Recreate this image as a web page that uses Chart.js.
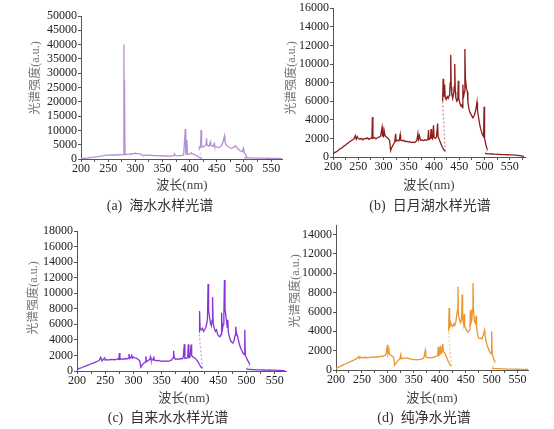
<!DOCTYPE html>
<html>
<head>
<meta charset="utf-8">
<script src="https://cdn.jsdelivr.net/npm/chart.js@4.4.1/dist/chart.umd.min.js"></script>
<style>
  body { margin: 0; background: #fff; }
  #wrap { position: relative; width: 554px; height: 429px; background: #fff; overflow: hidden; }
  .panel { position: absolute; }
  .txt { position: absolute; transform: translate(-50%, -50%); white-space: nowrap;
         font-family: "Liberation Serif", "Noto Sans CJK SC", serif; }
  .ytitle { font-size: 12px; color: #777; transform: translate(-50%, -50%) rotate(-90deg); }
  .xtitle { font-size: 13px; color: #444; }
  .cap { font-size: 14px; color: #333; }
</style>
</head>
<body>
<div id="wrap">
  <div class="panel" id="boxA"><canvas id="chartA"></canvas></div>
  <div class="panel" id="boxB"><canvas id="chartB"></canvas></div>
  <div class="panel" id="boxC"><canvas id="chartC"></canvas></div>
  <div class="panel" id="boxD"><canvas id="chartD"></canvas></div>

  <div class="txt ytitle" style="left:34px;top:78px">光谱强度(a.u.)</div>
  <div class="txt ytitle" style="left:290px;top:78px">光谱强度(a.u.)</div>
  <div class="txt ytitle" style="left:32px;top:298px">光谱强度(a.u.)</div>
  <div class="txt ytitle" style="left:294px;top:291px">光谱强度(a.u.)</div>

  <div class="txt xtitle" style="left:182px;top:183px">波长(nm)</div>
  <div class="txt xtitle" style="left:429px;top:183px">波长(nm)</div>
  <div class="txt xtitle" style="left:184px;top:396px">波长(nm)</div>
  <div class="txt xtitle" style="left:432px;top:396px">波长(nm)</div>

  <div class="txt cap" style="left:160px;top:204px">(a)&nbsp; 海水水样光谱</div>
  <div class="txt cap" style="left:430px;top:204px">(b)&nbsp; 日月湖水样光谱</div>
  <div class="txt cap" style="left:168px;top:416px">(c)&nbsp; 自来水水样光谱</div>
  <div class="txt cap" style="left:424px;top:416px">(d)&nbsp; 纯净水光谱</div>
</div>

<script>
// tick values
const xTickValues = [200, 225, 250, 275, 300, 325, 350, 375, 400, 425, 450, 475, 500, 525, 550, 575];
const yTicksA = [0, 5000, 10000, 15000, 20000, 25000, 30000, 35000, 40000, 45000, 50000];
const yTicksB = [0, 2000, 4000, 6000, 8000, 10000, 12000, 14000, 16000];
const yTicksC = [0, 2000, 4000, 6000, 8000, 10000, 12000, 14000, 16000, 18000];
const yTicksD = [0, 2000, 4000, 6000, 8000, 10000, 12000, 14000];

// spectra as [wavelength nm, intensity a.u.], recorded in three detector segments
// (a) sea water
const seaWater = [
  [200,100],[204,200],[208,280],[212,350],[216,450],[220,560],[224,650],[228,760],[232,850],[236,980],
  [240,1100],[244,1250],[248,1380],[252,1420],[256,1350],[260,1450],[264,1400],[268,1500],[272,1450],[276,1550],
  [278,1500],[279,40000],[279.5,1600],[280,27500],[281,1550],[285,1650],[288,1700],[291,1800],[294,1750],[297,1900],
  [300,2000],[303,1850],[306,1900],[309,1700],[312,1600],[314,1100],[317,1300],[320,1400],[323,1250],[326,1350],
  [329,1300],[332,1200],[335,1250],[338,1150],[341,1200],[344,1100],[347,1150],[350,1050],[353,1100],[356,1000],
  [359,1050],[362,1000],[365,1050],[368,1100],[371,1250],[372,1800],[374,1150],[377,1100],[380,1150],[383,1200],
  [386,1250],[389,1400],[392,10500],[393,1500],[395,6700],[396,1600],[399,1700],[402,1900],[403,2200],[405,1800],
  [408,1600],[411,1400],[414,1000],[417,600],[420,300],[422,150],
  [417,3700],[418,4200],[419,4000],[420,4300],[421,10100],[422,4300],[424,4100],[426,4400],[428,4600],[430,5000],
  [431,7200],[432,4900],[434,4700],[436,4500],[438,5900],[439,4800],[441,4600],[443,4400],[445,5400],[446,4500],
  [448,4300],[450,4200],[452,4100],[454,4000],[456,4200],[458,4500],[460,5200],[462,6300],[464,8100],[465,6000],
  [467,5000],[469,4600],[471,4300],[473,4100],[475,3900],[477,3800],[479,3900],[481,4100],[483,4400],[485,4600],
  [487,4000],[489,3500],[491,3200],[493,2900],[495,2700],[497,2600],[499,3700],[500,2400],[502,1700],[504,1100],
  [506,600],
  [500,420],[505,400],[510,380],[515,370],[520,340],[525,330],[530,310],[535,300],[540,280],[545,270],
  [550,250],[555,230],[560,210],[565,180],[570,150]
];

// (b) Sun Moon Lake water
const lakeWater = [
  [200,350],[203,450],[206,550],[209,650],[212,800],[215,900],[218,1000],[221,1150],[224,1250],[227,1400],
  [230,1500],[233,1650],[236,1750],[239,1850],[242,2000],[244,2300],[246,1900],[248,2200],[250,2000],[253,1900],
  [256,2000],[259,1850],[262,2000],[265,1950],[268,2050],[271,1900],[274,2000],[277,2050],[278,4300],[279,2000],
  [282,2100],[285,1950],[288,2100],[291,2150],[294,2200],[297,3200],[298,2300],[300,2200],[301,2900],[303,2300],
  [306,2150],[309,2000],[312,1800],[314,700],[316,1000],[318,1200],[320,1400],[322,1600],[324,2500],[325,1700],
  [328,1800],[331,1750],[333,2400],[334,1800],[337,1750],[340,1800],[343,1650],[346,1700],[349,1600],[352,1650],
  [355,1550],[358,1600],[361,1550],[364,1650],[366,1800],[368,2500],[369,1900],[371,2300],[373,1800],[376,1850],
  [379,1750],[382,1850],[385,1800],[388,1900],[389,2900],[390,1900],[393,2000],[394,3000],[395,2100],[397,1950],
  [399,3400],[400,2100],[403,2000],[405,2200],[407,3600],[408,2200],[410,1900],[413,1500],[416,1100],[419,800],
  [422,600],
  [417,6000],[418,8400],[419,6500],[420,6800],[421,7800],[422,6400],[424,6200],[426,6500],[428,6300],[430,6600],
  [431,7000],[432,8000],[433,11000],[434,7500],[435,6800],[437,6300],[439,7000],[440,7600],[441,10000],[442,7000],
  [443,6400],[445,6000],[447,6200],[448,8200],[449,6300],[451,5800],[453,5500],[455,5600],[456,5300],[457,7800],
  [458,6300],[460,7000],[461,11600],[462,8500],[464,7400],[466,7000],[467,5900],[469,5200],[471,4800],[473,4600],
  [475,4400],[477,4200],[479,4400],[481,4700],[483,5200],[485,5900],[486,5000],[488,4300],[490,3600],[492,3100],
  [494,2700],[496,2400],[498,2200],[499,5400],[500,2000],[502,1500],[504,1000],[506,800],
  [501,380],[505,350],[510,330],[515,320],[520,300],[525,290],[530,280],[535,260],[540,250],[545,240],
  [550,230],[555,220],[560,200],[565,180],[570,150],[575,100],[578,30]
];

// (c) tap water
const tapWater = [
  [200,180],[203,300],[206,380],[209,450],[212,550],[215,620],[218,720],[221,800],[224,900],[227,980],
  [230,1050],[233,1150],[236,1250],[239,1350],[242,1750],[244,1300],[246,1450],[249,1700],[250,1400],[253,1450],
  [256,1400],[259,1500],[262,1450],[265,1500],[268,1450],[271,1550],[274,1500],[275,2300],[276,1500],[279,1550],
  [282,1500],[285,1600],[288,1550],[291,1650],[292,2200],[293,1600],[295,1700],[297,2000],[298,1650],[300,1800],
  [302,1700],[305,1650],[308,1500],[311,1300],[313,500],[315,750],[317,900],[319,1050],[321,1150],[322,1900],
  [323,1200],[326,1350],[329,1500],[330,1800],[331,1450],[334,1400],[336,1750],[337,1400],[340,1350],[343,1300],
  [346,1350],[349,1250],[352,1300],[355,1250],[358,1300],[361,1250],[364,1300],[367,1400],[370,1700],[371,2600],
  [372,1800],[374,1500],[377,1550],[380,1500],[383,1600],[386,1550],[388,1700],[390,3450],[391,1600],[394,1650],
  [396,1800],[397,3450],[398,1700],[400,1750],[402,3400],[403,2000],[405,1800],[408,1700],[411,1500],[414,1200],
  [417,800],[420,450],[422,350],
  [416,5000],[417,7700],[418,5400],[420,5300],[422,5500],[424,5100],[426,5300],[428,5600],[430,6200],[431,6800],
  [432,11200],[433,7800],[434,7300],[436,6200],[438,5800],[439,6500],[440,9500],[441,6200],[443,5500],[445,5100],
  [447,5300],[449,4700],[451,4500],[453,4400],[455,4700],[456,7500],[457,5200],[459,6000],[460,7200],[461,11700],
  [462,8000],[464,6800],[466,5600],[467,6600],[468,5000],[470,4300],[472,3900],[474,3700],[476,3600],[478,3900],
  [480,4600],[481,5700],[482,5000],[484,4500],[486,3900],[488,3300],[490,2900],[492,2600],[494,2300],[496,2100],
  [497,5300],[498,2000],[500,1700],[502,1400],[504,1100],[506,850],
  [500,250],[505,220],[510,190],[515,170],[520,150],[525,140],[530,130],[535,120],[540,140],[545,110],
  [550,100],[555,90],[560,80],[565,60],[568,40]
];

// (d) pure water
const pureWater = [
  [200,150],[203,250],[206,330],[209,400],[212,480],[215,550],[218,620],[221,700],[224,770],[227,850],
  [230,920],[233,1000],[236,1080],[239,1150],[242,1250],[244,1400],[246,1200],[248,1350],[250,1300],[253,1250],
  [256,1350],[259,1250],[262,1300],[265,1280],[268,1350],[271,1300],[274,1350],[277,1320],[280,1380],[283,1350],
  [286,1420],[289,1400],[292,1450],[295,1500],[297,1800],[299,2600],[300,1700],[302,2100],[303,1600],[305,1550],
  [308,1450],[311,1300],[313,500],[315,650],[317,800],[319,950],[321,1050],[323,1150],[325,1600],[326,1150],
  [329,1200],[332,1250],[335,1200],[338,1250],[341,1150],[344,1150],[347,1100],[350,1050],[353,1100],[356,1050],
  [359,1080],[362,1100],[365,1120],[368,1200],[370,1400],[372,2000],[373,1400],[375,1300],[378,1250],[381,1300],
  [384,1250],[387,1300],[390,1350],[393,1400],[396,1500],[397,2400],[398,1500],[400,1600],[401,2500],[402,1700],
  [404,1800],[406,2700],[407,1900],[409,1800],[411,1600],[414,1200],[417,800],[420,500],[422,400],
  [417,4000],[418,6400],[419,4300],[421,4900],[423,4600],[425,4500],[427,4800],[429,4600],[431,5000],[433,5800],
  [434,6200],[435,8600],[436,5800],[438,5200],[440,4900],[442,5400],[443,7800],[444,5300],[446,4700],[447,5800],
  [448,4600],[450,4300],[452,4100],[454,3900],[456,4000],[458,4200],[459,6200],[460,4800],[462,5200],[463,6300],
  [464,9000],[465,6200],[467,5000],[469,4800],[470,5600],[471,4400],[473,3600],[475,3300],[477,3250],[479,3300],
  [481,3200],[483,3500],[485,3800],[486,4100],[487,3700],[489,3000],[491,2600],[493,2300],[495,2000],[497,1800],
  [499,1700],[500,4000],[501,1600],[503,1300],[505,1000],[507,850],
  [500,200],[505,170],[510,150],[515,140],[520,120],[525,110],[530,100],[535,100],[540,95],[545,90],
  [550,80],[555,75],[560,70],[565,60],[570,50]
];

const panels = [
  { id: 'A', data: seaWater,  color: '#b58fd4', faint: 'rgba(181,143,212,0.5)', xMax: 570, yMax: 50000, yTicks: yTicksA,
    box: [38, 0, 252, 178], padTop: 16, padRight: 8, yW: 43, xH: 19 },
  { id: 'B', data: lakeWater, color: '#8c1d1d', faint: 'rgba(140,29,29,0.45)', xMax: 580, yMax: 16000, yTicks: yTicksB,
    box: [292, 0, 241, 175], padTop: 7, padRight: 8, yW: 41, xH: 18 },
  { id: 'C', data: tapWater,  color: '#8833d6', faint: 'rgba(136,51,214,0.45)', xMax: 570, yMax: 18000, yTicks: yTicksC,
    box: [36, 220, 258, 170], padTop: 11, padRight: 8, yW: 41, xH: 19 },
  { id: 'D', data: pureWater, color: '#ec9630', faint: 'rgba(236,150,48,0.5)', xMax: 570, yMax: 15000, yTicks: yTicksD,
    box: [295, 214, 241, 175], padTop: 11, padRight: 8, yW: 41, xH: 19 }
];

const tickFont = { family: 'Liberation Serif', size: 12 };

panels.forEach(p => {
  const box = document.getElementById('box' + p.id);
  box.style.left = p.box[0] + 'px';
  box.style.top = p.box[1] + 'px';
  box.style.width = p.box[2] + 'px';
  box.style.height = p.box[3] + 'px';

  // a jump back in wavelength is the joint between two detector segments
  const isJoint = ctx => ctx.p1.parsed.x < ctx.p0.parsed.x;

  new Chart(document.getElementById('chart' + p.id), {
    type: 'line',
    data: {
      datasets: [{
        data: p.data.map(d => ({ x: d[0], y: d[1] })),
        borderColor: p.color,
        borderWidth: 1.3,
        pointRadius: 0,
        tension: 0,
        fill: false,
        segment: {
          borderColor: ctx => isJoint(ctx) ? p.faint : undefined,
          borderDash: ctx => isJoint(ctx) ? [2, 2] : undefined
        }
      }]
    },
    options: {
      responsive: true,
      maintainAspectRatio: false,
      animation: false,
      layout: { padding: { top: p.padTop, right: p.padRight, bottom: 0, left: 0 } },
      plugins: { legend: { display: false }, tooltip: { enabled: false } },
      scales: {
        x: {
          type: 'linear',
          min: 200,
          max: p.xMax,
          afterBuildTicks: s => { s.ticks = xTickValues.filter(v => v <= p.xMax).map(v => ({ value: v })); },
          afterFit: s => { s.height = p.xH; },
          grid: { display: true, drawOnChartArea: false, drawTicks: true, tickLength: 3, color: '#555' },
          border: { display: true, color: '#555', width: 1 },
          ticks: {
            font: tickFont, color: '#222', padding: 0, maxRotation: 0, autoSkip: false,
            callback: v => (v % 50 === 0 ? String(v) : '')
          }
        },
        y: {
          min: 0,
          max: p.yMax,
          afterBuildTicks: s => { s.ticks = p.yTicks.map(v => ({ value: v })); },
          afterFit: s => { s.width = p.yW; },
          grid: { display: true, drawOnChartArea: false, drawTicks: true, tickLength: 3, color: '#555' },
          border: { display: true, color: '#555', width: 1 },
          ticks: { font: tickFont, color: '#222', padding: 1, autoSkip: false, callback: v => String(v) }
        }
      }
    }
  });
});
</script>
</body>
</html>
